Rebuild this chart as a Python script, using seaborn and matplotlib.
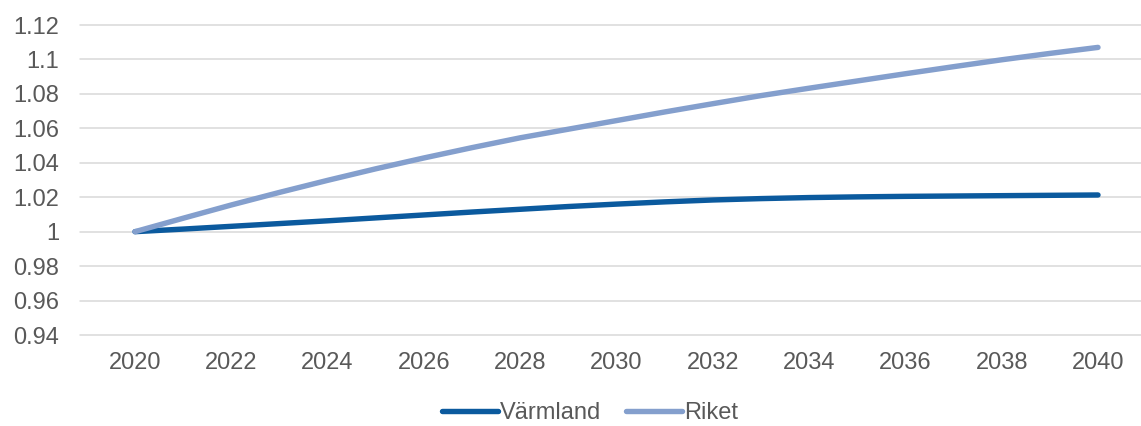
import pandas as pd
import numpy as np
import matplotlib
matplotlib.use("Agg")
import matplotlib.pyplot as plt
import seaborn as sns

years = list(range(2020, 2041))
varmland = [1.000, 1.0015, 1.0031, 1.0047, 1.0063, 1.0080, 1.0097, 1.0114, 1.0130, 1.0146, 1.0160,
            1.0173, 1.0184, 1.0192, 1.0198, 1.0202, 1.0205, 1.0207, 1.0209, 1.0211, 1.0213]
riket = [1.000, 1.0078, 1.0155, 1.0228, 1.0298, 1.0365, 1.0428, 1.0488, 1.0545, 1.0595, 1.0645,
         1.0695, 1.0743, 1.0790, 1.0833, 1.0875, 1.0917, 1.0958, 1.0998, 1.1035, 1.107]
series_names = ["Värmland", "Riket"]
x_ticks = list(range(2020, 2041, 2))
y_ticks = [0.94, 0.96, 0.98, 1.0, 1.02, 1.04, 1.06, 1.08, 1.1, 1.12]
y_labels = ["0.94", "0.96", "0.98", "1", "1.02", "1.04", "1.06", "1.08", "1.1", "1.12"]

df = pd.DataFrame({
    "year": years * 2,
    "value": varmland + riket,
    "serie": [series_names[0]] * len(years) + [series_names[1]] * len(years),
})

sns.set_style("white")
plt.rcParams["font.family"] = ["Liberation Sans", "DejaVu Sans"]

fig = plt.figure(figsize=(11.41, 4.26), dpi=100)
ax = fig.add_axes([80 / 1141, 91 / 426, 1 - 80 / 1141, 310 / 426])

palette = {"Värmland": "#0B5A9E", "Riket": "#849FCD"}
sns.lineplot(data=df, x="year", y="value", hue="serie", palette=palette,
             linewidth=3.9, ax=ax, legend=False, solid_capstyle="round")

ax.set_xlim(2020 - 55 / 48.15, 2040 + 43 / 48.15)
ax.set_ylim(0.94, 1.12)
ax.set_xticks(x_ticks)
ax.set_xticklabels([str(x) for x in x_ticks])
ax.set_yticks(y_ticks)
ax.set_yticklabels(y_labels)
ax.yaxis.grid(True, color="#D9D9D9", linewidth=1.1)
ax.xaxis.grid(False)
for gl in ax.get_ygridlines():
    gl.set_clip_on(False)
ax.set_axisbelow(True)
for s in ax.spines.values():
    s.set_visible(False)
ax.tick_params(axis="both", length=0, labelsize=17, labelcolor="#595959")
ax.tick_params(axis="y", pad=15)
ax.tick_params(axis="x", pad=12)
ax.set_xlabel("")
ax.set_ylabel("")

handles = [plt.Line2D([], [], color=palette[n], linewidth=3.9, solid_capstyle="round") for n in series_names]
fig.legend(handles, series_names, loc="center", bbox_to_anchor=(590 / 1141, 1 - 413 / 426),
           ncol=2, frameon=False, fontsize=17, labelcolor="#595959",
           handlelength=2.35, handletextpad=0.1, columnspacing=1.05)

fig.savefig("out.png", dpi=100)
